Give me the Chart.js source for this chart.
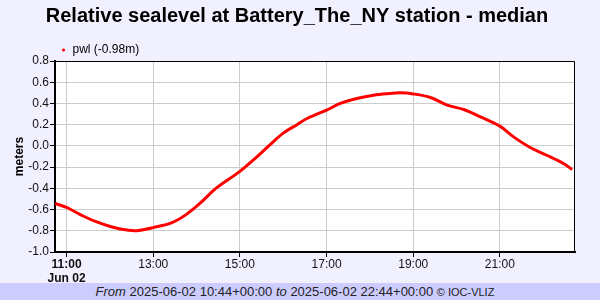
<!DOCTYPE html>
<html>
<head>
<meta charset="utf-8">
<script src="https://cdn.jsdelivr.net/npm/chart.js@4/dist/chart.umd.min.js"></script>
<style>
  html, body { margin: 0; padding: 0; background: #F0F0FF; }
  #wrap { width: 600px; height: 300px; position: relative; background: #F0F0FF; }
  #box { width: 600px; height: 283px; position: relative; }
  #foot { position: absolute; left: 0; top: 283px; width: 590px; padding-right: 10px; height: 17px; background: #CCCCFF;
          font-family: "Liberation Sans", Arial, sans-serif; font-size: 13px; line-height: 17px;
          color: #222; text-align: center; white-space: nowrap; }
  #foot i { font-style: italic; }
  #foot small { font-size: 11px; }
</style>
</head>
<body>
<div id="wrap">
  <div id="box"><canvas id="c" width="600" height="283"></canvas></div>
  <div id="foot"><i>From</i> 2025-06-02 10:44+00:00 <i>to</i> 2025-06-02 22:44+00:00 <small>© IOC-VLIZ</small></div>
</div>
<script>
const titleText = 'Relative sealevel at Battery_The_NY station - median';
const seriesName = 'pwl (-0.98m)';
const times = ['10:44','11:00','11:19','11:39','12:03','12:26','12:40','13:00','13:26','13:45','14:05','14:26','15:00','15:20','15:40','16:00','16:19','16:33','17:00','17:19','17:42','18:05','18:28','18:42','19:00','19:24','19:47','20:10','20:33','21:00','21:19','21:42','22:05','22:28','22:40'];
const values = [-0.543,-0.58,-0.647,-0.71,-0.764,-0.795,-0.797,-0.77,-0.723,-0.65,-0.54,-0.405,-0.24,-0.125,0.0,0.12,0.2,0.258,0.337,0.40,0.447,0.478,0.494,0.50,0.49,0.456,0.384,0.343,0.274,0.186,0.085,-0.015,-0.088,-0.166,-0.222];
const xTickTimes = ['11:00','13:00','15:00','17:00','19:00','21:00'];
const xStart = '10:44', xEnd = '22:44';
const firstDateLabel = 'Jun 02';
const yMin = -1.0, yMax = 0.8, yStep = 0.2;

const toMin = s => { const [h, m] = s.split(':').map(Number); return h * 60 + m; };
const fmt = v => String(Math.floor(v / 60)).padStart(2, '0') + ':' + String(v % 60).padStart(2, '0');
const FONT = '"Liberation Sans", Arial, sans-serif';

const bgPlugin = {
  id: 'bg',
  beforeDraw(chart) {
    const { ctx, chartArea: a } = chart;
    ctx.save();
    ctx.fillStyle = '#fff';
    ctx.fillRect(a.left, a.top, a.right - a.left, a.bottom - a.top);
    ctx.restore();
  },
  afterDraw(chart) {
    const { ctx, chartArea: a } = chart;
    ctx.save();
    ctx.strokeStyle = '#000';
    ctx.lineWidth = 1;
    ctx.beginPath();
    ctx.moveTo(a.left, a.top + 0.5);
    ctx.lineTo(a.right - 0.5, a.top + 0.5);
    ctx.lineTo(a.right - 0.5, a.bottom);
    ctx.stroke();
    // title
    ctx.fillStyle = '#000';
    ctx.font = 'bold 20px ' + FONT;
    ctx.textAlign = 'center';
    ctx.textBaseline = 'alphabetic';
    ctx.fillText(titleText, 297, 22);
    // legend
    ctx.fillStyle = 'red';
    ctx.beginPath();
    ctx.arc(63.5, 50, 1.6, 0, Math.PI * 2);
    ctx.fill();
    ctx.fillStyle = '#000';
    ctx.font = '12px ' + FONT;
    ctx.textBaseline = 'middle';
    ctx.textAlign = 'left';
    ctx.fillText(chart.data.datasets[0].label, 72.5, 50);
    ctx.restore();
  }
};

new Chart(document.getElementById('c'), {
  type: 'line',
  data: {
    datasets: [{
      label: seriesName,
      data: times.map((t, i) => ({ x: toMin(t), y: values[i] })),
      borderColor: '#ff0000',
      backgroundColor: '#ff0000',
      borderWidth: 3,
      pointRadius: 0,
      tension: 0.35
    }]
  },
  options: {
    responsive: false,
    animation: false,
    layout: { padding: { top: 61, left: 0, right: 25, bottom: 0 } },
    plugins: {
      legend: { display: false },
      tooltip: { enabled: false },
      title: { display: false }
    },
    scales: {
      x: {
        type: 'linear', min: toMin(xStart), max: toMin(xEnd),
        afterBuildTicks: s => { s.ticks = xTickTimes.map(t => ({ value: toMin(t) })); },
        afterFit: s => { s.height = 31; },
        grid: { color: '#cccccc', lineWidth: 1, tickLength: 5, tickColor: '#000' },
        border: { color: '#000', width: 2 },
        ticks: {
          autoSkip: false, maxRotation: 0, padding: 1, color: '#111',
          font: ctx => ({ family: FONT, size: 12, lineHeight: 1.17, weight: ctx.index === 0 ? 'bold' : 'normal' }),
          callback: (v, i) => i === 0 ? [fmt(v), firstDateLabel] : fmt(v)
        }
      },
      y: {
        min: yMin, max: yMax,
        afterFit: s => { s.width = 55; },
        grid: { color: '#cccccc', lineWidth: 1, tickLength: 5, tickColor: '#000' },
        border: { color: '#000', width: 2 },
        ticks: { stepSize: yStep, padding: 1, color: '#111', font: { family: FONT, size: 12 },
                 callback: v => Number(v).toFixed(1) },
        title: { display: true, text: 'meters', color: '#000',
                 font: { family: FONT, size: 12, weight: 'bold' }, padding: { top: 12, bottom: 0 } }
      }
    }
  },
  plugins: [bgPlugin]
});
</script>
</body>
</html>
